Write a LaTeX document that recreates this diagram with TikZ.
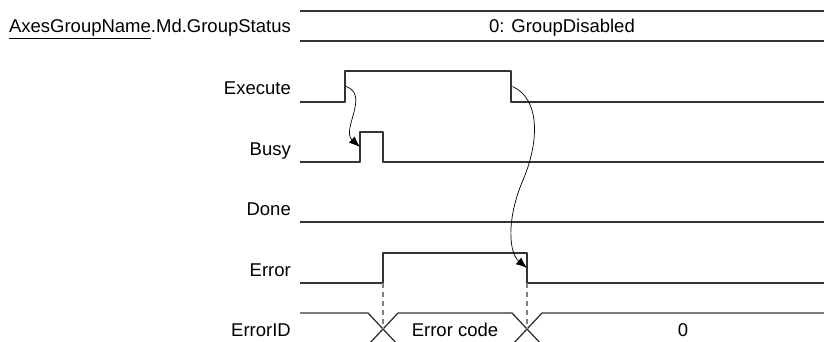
\documentclass[tikz,border=0pt]{standalone}
\usepackage{fontspec}
\setmainfont{Liberation Sans}
\usetikzlibrary{arrows.meta}
\definecolor{sig}{HTML}{333333}
\begin{document}
\begin{tikzpicture}[x=1pt, y=-1pt, font=\fontsize{18.5}{22}\selectfont, line join=round, >={Latex[length=11pt,width=8.5pt]},
  wave/.style={draw=sig, line width=1.3pt},
  cause/.style={draw=black, line width=.7pt, ->},
  guide/.style={draw=gray, line width=1.1pt, dash pattern=on 5pt off 4pt},
  lbl/.style={anchor=base east, inner sep=0pt}]
	\clip (0,0) rectangle (824,342);
	\def\xl{300} \def\xr{824} \def\yt{313} \def\yb{345}
	% signal names
	\foreach \n/\y/\t in {gs/33/{\underline{AxesGroupName}.Md.GroupStatus}, ex/95/Execute, bu/155/Busy, dn/215/Done, er/276/Error, id/336/ErrorID}
		\node[lbl] (\n) at (291,\y) {\t};
	% GroupStatus
	\draw[wave] (\xl,11) -- (\xr,11) (\xl,41) -- (\xr,41);
	\node[anchor=base, inner sep=0pt] (gsval) at (562,33) {0: GroupDisabled};
	% Execute, Busy, Done, Error
	\draw[wave] (\xl,102) -- (345,102) -- coordinate (exRise) (345,71) -- (511,71) -- coordinate (exFall) (511,102) -- (\xr,102);
	\draw[wave] (\xl,162) -- (360,162) -- coordinate (buRise) (360,132) -- (383,132) -- (383,162) -- (\xr,162);
	\draw[wave] (\xl,222) -- (\xr,222);
	\draw[wave] (\xl,283) -- (383,283) coordinate (erOn) -- (383,253) -- (527,253) -- coordinate (erFall) (527,283) coordinate (erOff) -- (\xr,283);
	% ErrorID
	\draw[wave] (\xl,\yt) -- (368,\yt) -- coordinate (idA) (398,\yb) -- (512,\yb) -- coordinate (idB) (542,\yt) -- (\xr,\yt);
	\draw[wave] (\xl,\yb) -- (368,\yb) -- (398,\yt) -- (512,\yt) -- (542,\yb) -- (\xr,\yb);
	\node[anchor=base, inner sep=0pt] (code) at (455,336) {Error code};
	\node[anchor=base, inner sep=0pt] (zero) at (683,336) {0};
	\draw[guide] (erOn) -- (idA) (erOff) -- (idB);
	% causes
	\draw[cause] ([xshift=1pt]exRise) .. controls +(24,8) and +(-19,-17) .. (buRise);
	\draw[cause] ([xshift=1.5pt]exFall) .. controls +(27,12) and +(17,-40) .. (523,180) coordinate (mid) .. controls +(-17,40) and +(-18,-15) .. (erFall);
\end{tikzpicture}
\end{document}
